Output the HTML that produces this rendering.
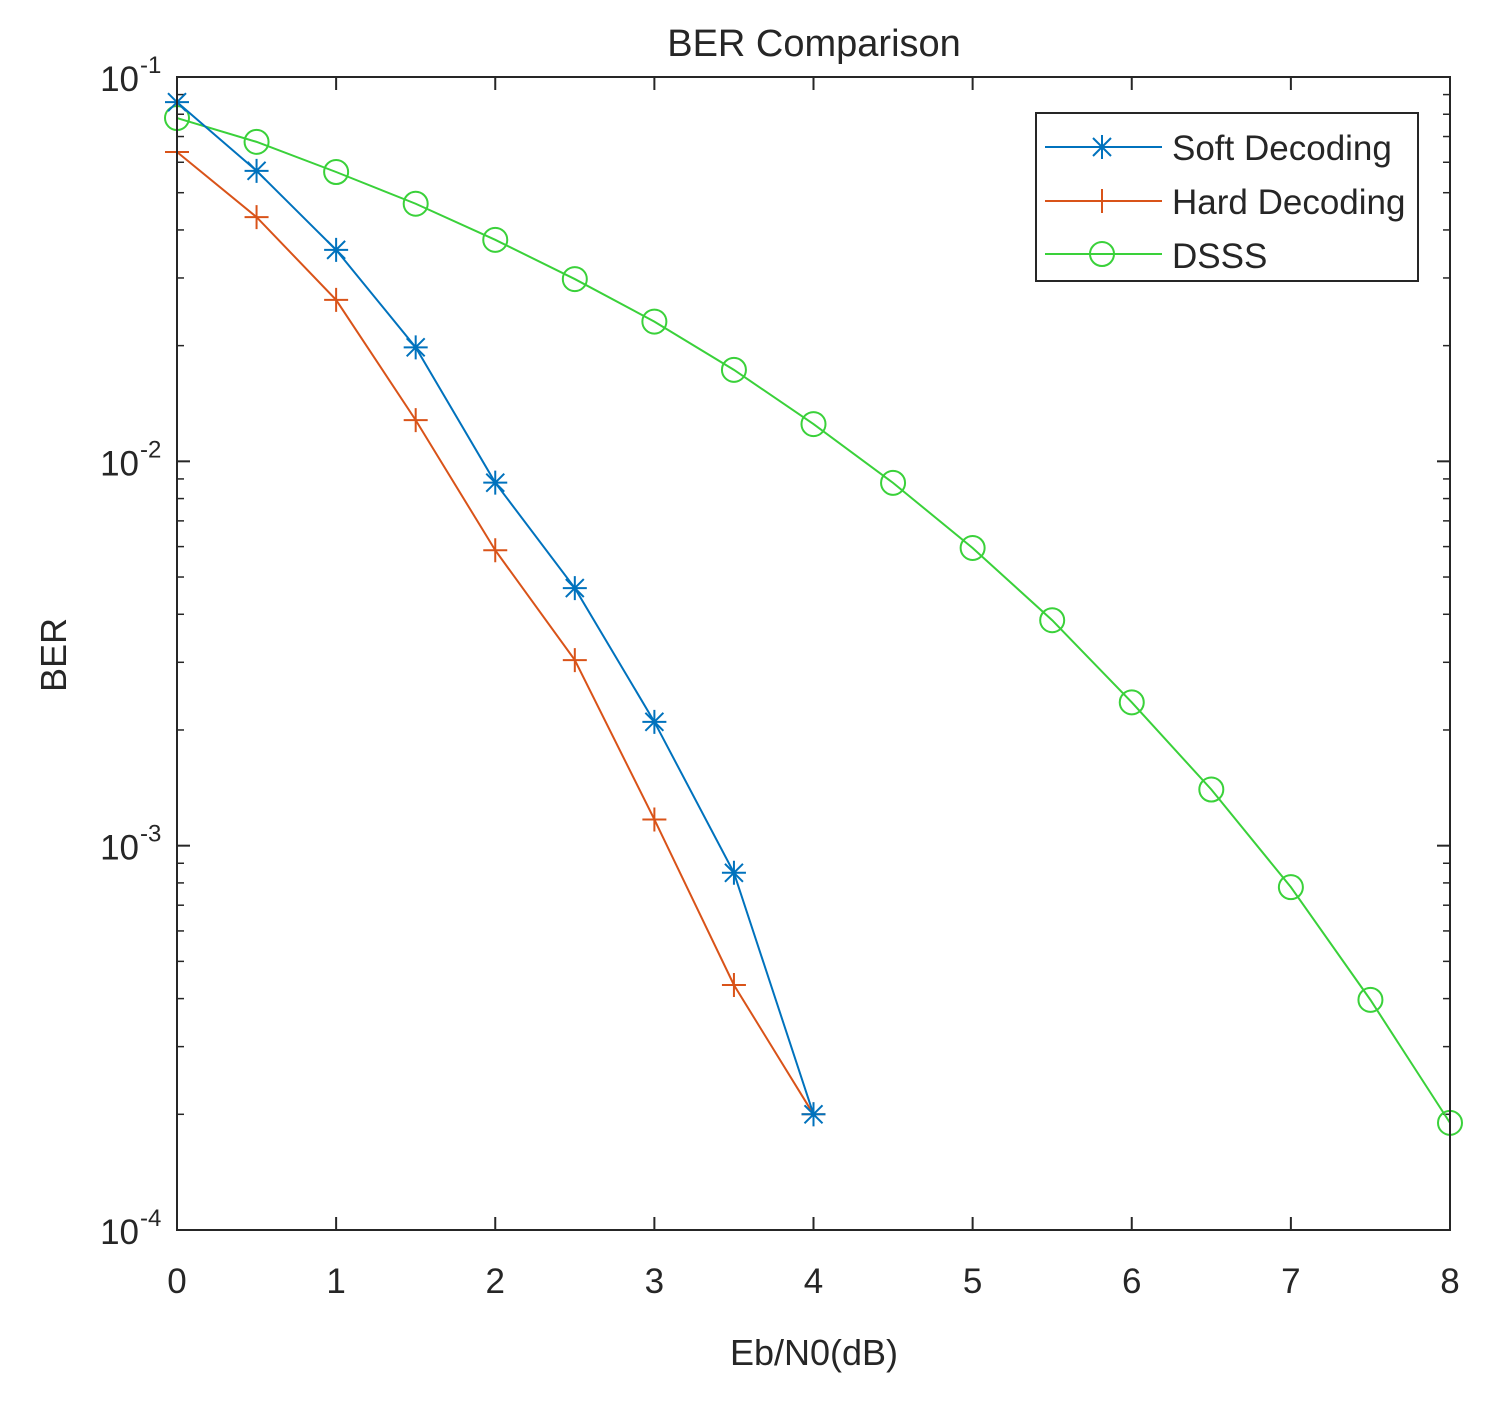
<!DOCTYPE html>
<html><head><meta charset="utf-8"><style>
html,body{margin:0;padding:0;background:#fff;}
svg{display:block;font-family:"Liberation Sans",Arial,sans-serif;}
</style></head><body>
<svg id="chart" width="1487" height="1406" viewBox="0 0 1487 1406" xmlns="http://www.w3.org/2000/svg">
<rect width="1487" height="1406" fill="#fff"/>
<text x="814" y="56" font-size="38" text-anchor="middle" fill="#262626">BER Comparison</text>
<text x="814" y="1365" font-size="36" text-anchor="middle" fill="#262626">Eb/N0(dB)</text>
<text x="0" y="0" font-size="36" text-anchor="middle" fill="#262626" transform="translate(66,655) rotate(-90)">BER</text>
<g id="grid"></g>
<g id="series"></g>
<rect x="177" y="77" width="1273" height="1153" fill="none" stroke="#262626" stroke-width="2"/>
<g id="legend">
<rect x="1036" y="113" width="382" height="168" fill="#fff" stroke="#262626" stroke-width="2"/>
<line x1="1045" y1="147" x2="1162" y2="147" stroke="#0072BD" stroke-width="2"/>
<line x1="1045" y1="201" x2="1162" y2="201" stroke="#D95319" stroke-width="2"/>
<line x1="1045" y1="254" x2="1162" y2="254" stroke="#3ad13a" stroke-width="2"/>
<g id="legend-markers"></g>
<text x="1172" y="160" font-size="35" fill="#262626">Soft Decoding</text>
<text x="1172" y="214" font-size="35" fill="#262626">Hard Decoding</text>
<text x="1172" y="268" font-size="35" fill="#262626">DSSS</text>
</g>
</svg>
<script>
const xSoft=[0,0.5,1,1.5,2,2.5,3,3.5,4];
const soft=[0.086,0.057,0.0355,0.0198,0.0088,0.00468,0.0021,0.00085,0.0002];
const xHard=[0,0.5,1,1.5,2,2.5,3,3.5,4];
const hard=[0.0638,0.0432,0.0263,0.0128,0.00587,0.00304,0.00117,0.000434,0.0002];
const xDsss=[0,0.5,1,1.5,2,2.5,3,3.5,4,4.5,5,5.5,6,6.5,7,7.5,8];
const dsss=[0.0782,0.0678,0.0566,0.0468,0.0377,0.0298,0.0231,0.0173,0.0125,0.00879,0.00595,0.00386,0.00236,0.0014,0.00078,0.000397,0.00019];
const xTicks=[0,1,2,3,4,5,6,7,8];
const yExps=[-1,-2,-3,-4];

const L=177,R=1450,T=77,B=1230;
const sx=v=>L+(v-0)/8*(R-L);
const sy=v=>T+(-1-Math.log10(v))/3*(B-T);
const NS="http://www.w3.org/2000/svg";
function mk(tag,attrs,parent){const e=document.createElementNS(NS,tag);for(const k in attrs)e.setAttribute(k,attrs[k]);parent.appendChild(e);return e;}
const grid=document.getElementById('grid');
xTicks.forEach(t=>{
  const x=sx(t);
  const a=mk('line',{x1:x,y1:B,x2:x,y2:B-13,stroke:'#262626','stroke-width':2},grid);
  
  
  mk('line',{x1:x,y1:T,x2:x,y2:T+13,stroke:'#262626','stroke-width':2},grid);
  const tx=mk('text',{x:x,y:B+63,'font-size':35,'text-anchor':'middle',fill:'#262626'},grid);
  tx.textContent=t;
  
  
});
yExps.forEach(e=>{
  const y=sy(Math.pow(10,e));
  mk('line',{x1:L,y1:y,x2:L+13,y2:y,stroke:'#262626','stroke-width':2},grid);
  mk('line',{x1:R,y1:y,x2:R-13,y2:y,stroke:'#262626','stroke-width':2},grid);
  const tx=mk('text',{x:L-38,y:y+14,'font-size':35,'text-anchor':'end',fill:'#262626'},grid);
  tx.textContent='10';
  
  
  const sp=mk('text',{x:L-37,y:y-4,'font-size':24,'text-anchor':'start',fill:'#262626'},grid);
  sp.textContent=String(e);
  if(e>-4){for(let m=2;m<=9;m++){const yy=sy(m*Math.pow(10,e-1));
    mk('line',{x1:L,y1:yy,x2:L+7,y2:yy,stroke:'#262626','stroke-width':1.5},grid);
    mk('line',{x1:R,y1:yy,x2:R-7,y2:yy,stroke:'#262626','stroke-width':1.5},grid);}}
});
const ser=document.getElementById('series');
function marker(kind,x,y,c,g){
  if(kind==='o'){mk('circle',{cx:x,cy:y,r:12,fill:'none',stroke:c,'stroke-width':2},g);}
  else if(kind==='+'){mk('path',{d:`M${x-12} ${y}H${x+12}M${x} ${y-12}V${y+12}`,stroke:c,'stroke-width':2,fill:'none'},g);}
  else {mk('path',{d:`M${x-12} ${y}H${x+12}M${x} ${y-12}V${y+12}M${x-9} ${y-9}L${x+9} ${y+9}M${x-9} ${y+9}L${x+9} ${y-9}`,stroke:c,'stroke-width':2,fill:'none'},g);}
}
function draw(xs,ys,c,kind,name){
  const g=mk('g',{},ser);
  
  
  mk('polyline',{points:xs.map((x,i)=>sx(x)+','+sy(ys[i])).join(' '),fill:'none',stroke:c,'stroke-width':2},g);
  xs.forEach((x,i)=>marker(kind,sx(x),sy(ys[i]),c,g));
}
draw(xDsss,dsss,'#3ad13a','o','series-dsss');
draw(xHard,hard,'#D95319','+','series-hard-decoding');
draw(xSoft,soft,'#0072BD','*','series-soft-decoding');
const lm=document.getElementById('legend-markers');
marker('*',1102,147,'#0072BD',lm);
marker('+',1102,201,'#D95319',lm);
marker('o',1102,254,'#3ad13a',lm);
</script>
</body></html>
